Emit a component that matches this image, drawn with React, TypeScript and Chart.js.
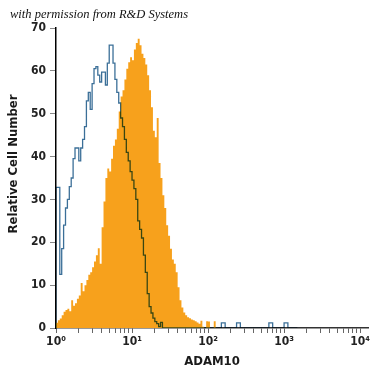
import React, { useEffect, useRef } from "react";
import { Chart, registerables } from "chart.js";

Chart.register(...registerables);

// Histogram bins are equally spaced in log10 (channel width in decades)
const BIN_LOG_WIDTH = 0.025;

// Axis ticks
const xDecades = [1, 10, 100, 1000, 10000];
const xDecadeLabels = ["10⁰", "10¹", "10²", "10³", "10⁴"];
const xMinorMultipliers = [1, 2, 3, 4, 5, 6, 7, 8, 9];
const yTickValues = [0, 10, 20, 30, 40, 50, 60, 70];

// ADAM10 antibody (filled orange histogram), counts per bin starting at 10^0
const adam10Counts = [
  0.5, 1.2, 1.8, 2.2, 3.0, 3.8, 4.2, 4.5, 3.9, 6.5,
  5.2, 5.8, 6.8, 7.6, 10.5, 8.6, 10.0, 11.2, 12.4, 13.0,
  14.2, 15.5, 17.0, 18.6, 15.0, 23.5, 29.5, 35.0, 37.2, 36.5,
  39.5, 42.5, 44.0, 46.5, 50.5, 54.0, 55.5, 58.0, 60.5, 62.0,
  63.2, 62.5, 65.0, 66.5, 67.5, 66.0, 64.0, 63.0, 61.5, 59.0,
  55.5, 51.5, 46.0, 44.5, 49.0, 38.5, 35.0, 31.0, 28.0, 24.0,
  21.5, 18.5, 16.0, 15.0, 13.0, 9.5, 6.5, 4.8, 3.6, 3.0,
  2.5, 2.3, 2.0, 1.8, 1.6, 1.3, 1.0, 1.7, 0.3, 0,
  1.6, 1.5, 0, 0, 1.6, 0,
];

// Isotype control (open blue histogram), counts per bin starting at 10^0
const isotypeCounts = [
  0, 32.8, 32.8, 12.5, 18.5, 24, 28, 30, 33, 35,
  39.5, 42, 42, 39, 42, 44, 47, 53, 55, 51,
  57, 60.5, 61, 59, 57.4, 59.7, 59.7, 56.7, 61.8, 66,
  66, 61.8, 58, 55, 52.5, 49, 47, 44, 41, 39,
  36.5, 34.5, 32.5, 30, 25, 23, 21, 17, 13, 8,
  5, 3.5, 2.3, 1.5, 1, 0.3, 1.3, 0, 0, 0,
  0, 0, 0, 0, 0, 0, 0, 0, 0, 0,
  0, 0, 0, 0, 0, 0, 0, 0, 0, 0,
  0, 0, 0, 0, 0, 0, 0, 0, 1.2, 1.2,
  0, 0, 0, 0, 0, 0, 1.2, 1.2, 0, 0,
  0, 0, 0, 0, 0, 0, 0, 0, 0, 0,
  0, 0, 0, 1.2, 1.2, 0, 0, 0, 0, 0,
  0, 1.2, 1.2, 0, 0, 0, 0,
];

const X_MIN = 1;
const X_MAX = 12700;
const Y_MIN = 0;
const Y_MAX = 70;

const ORANGE = "#F7A11C";
const BLUE = "#3B6F98";
const CONDENSED = "'Liberation Sans Narrow', 'DejaVu Sans Condensed', 'Roboto', sans-serif";

function binEdge(i: number) {
  return Math.pow(10, i * BIN_LOG_WIDTH);
}

function histogramPoints(counts: number[]) {
  const pts = counts.map((c, i) => ({ x: binEdge(i), y: c }));
  pts.push({ x: binEdge(counts.length), y: 0 });
  return pts;
}

const multiplyPlugin = {
  id: "multiplyOutline",
  beforeDatasetDraw(chart: any, args: any) {
    if (args.index === 0) {
      chart.ctx.save();
      chart.ctx.globalCompositeOperation = "multiply";
    }
  },
  afterDatasetDraw(chart: any, args: any) {
    if (args.index === 0) chart.ctx.restore();
  },
};

const textPlugin = {
  id: "extraText",
  afterDraw(chart: any) {
    const ctx = chart.ctx;
    ctx.save();
    ctx.font = "italic 12.5px 'Liberation Serif', 'DejaVu Serif', serif";
    ctx.fillStyle = "#111";
    ctx.textAlign = "left";
    ctx.textBaseline = "alphabetic";
    ctx.fillText("with permission from R&D Systems", 10, 18);
    ctx.restore();

    ctx.save();
    ctx.translate(14, 164);
    ctx.rotate(-Math.PI / 2);
    ctx.font = "bold 13px " + CONDENSED;
    ctx.fillStyle = "#1a1a1a";
    ctx.textAlign = "center";
    ctx.textBaseline = "middle";
    ctx.fillText("Relative Cell Number", 0, 0);
    ctx.restore();
  },
};

export default function App() {
  const canvasRef = useRef<HTMLCanvasElement | null>(null);

  useEffect(() => {
    if (!canvasRef.current) return;
    const xTickValues: number[] = [];
    xDecades.forEach((d, di) => {
      if (di === xDecades.length - 1) {
        xTickValues.push(d);
      } else {
        xMinorMultipliers.forEach((m) => xTickValues.push(d * m));
      }
    });

    const chart = new Chart(canvasRef.current, {
      type: "line",
      data: {
        datasets: [
          {
            label: "Isotype",
            data: histogramPoints(isotypeCounts),
            stepped: "after",
            borderColor: BLUE,
            borderWidth: 1.3,
            pointRadius: 0,
            fill: false,
            tension: 0,
          },
          {
            label: "ADAM10",
            data: histogramPoints(adam10Counts),
            stepped: "after",
            borderWidth: 0,
            borderColor: ORANGE,
            backgroundColor: ORANGE,
            pointRadius: 0,
            fill: "origin",
            tension: 0,
          },
        ],
      },
      options: {
        animation: false,
        responsive: false,
        events: [],
        layout: { padding: { left: 0, right: 7, top: 28, bottom: 0 } },
        plugins: {
          legend: { display: false },
          tooltip: { enabled: false },
        },
        scales: {
          x: {
            type: "logarithmic",
            min: X_MIN,
            max: X_MAX,
            afterBuildTicks: (scale: any) => {
              scale.ticks = xTickValues.map((v) => ({ value: v }));
            },
            afterFit: (scale: any) => {
              scale.height = 47;
            },
            ticks: {
              autoSkip: false,
              maxRotation: 0,
              padding: 2,
              color: "#222",
              font: { family: CONDENSED, size: 12, weight: "bold" },
              callback: (value: any) => {
                const idx = xDecades.indexOf(Number(value));
                return idx >= 0 ? xDecadeLabels[idx] : "";
              },
            },
            grid: {
              drawOnChartArea: false,
              drawTicks: true,
              tickLength: 5,
              tickColor: "#666",
              tickWidth: 1,
            },
            border: { color: "#333", width: 1.5 },
            title: {
              display: true,
              text: "ADAM10",
              color: "#1a1a1a",
              font: { family: CONDENSED, size: 13, weight: "bold" },
              padding: { top: 0, bottom: 6 },
            },
          },
          y: {
            type: "linear",
            min: Y_MIN,
            max: Y_MAX,
            afterBuildTicks: (scale: any) => {
              scale.ticks = yTickValues.map((v) => ({ value: v }));
            },
            afterFit: (scale: any) => {
              scale.width = 56;
            },
            ticks: {
              padding: 4,
              color: "#222",
              font: { family: CONDENSED, size: 12, weight: "bold" },
            },
            grid: {
              drawOnChartArea: false,
              drawTicks: true,
              tickLength: 6,
              tickColor: "#888",
              tickWidth: 1,
            },
            border: { color: "#000", width: 1.5 },
            title: { display: false },
          },
        },
      },
      plugins: [multiplyPlugin, textPlugin],
    } as any);

    return () => chart.destroy();
  }, []);

  return (
    <div style={{ position: "fixed", left: 0, top: 0, width: 375, height: 375, background: "#fff" }}>
      <canvas ref={canvasRef} width={375} height={375} style={{ display: "block", width: 375, height: 375 }} />
    </div>
  );
}
